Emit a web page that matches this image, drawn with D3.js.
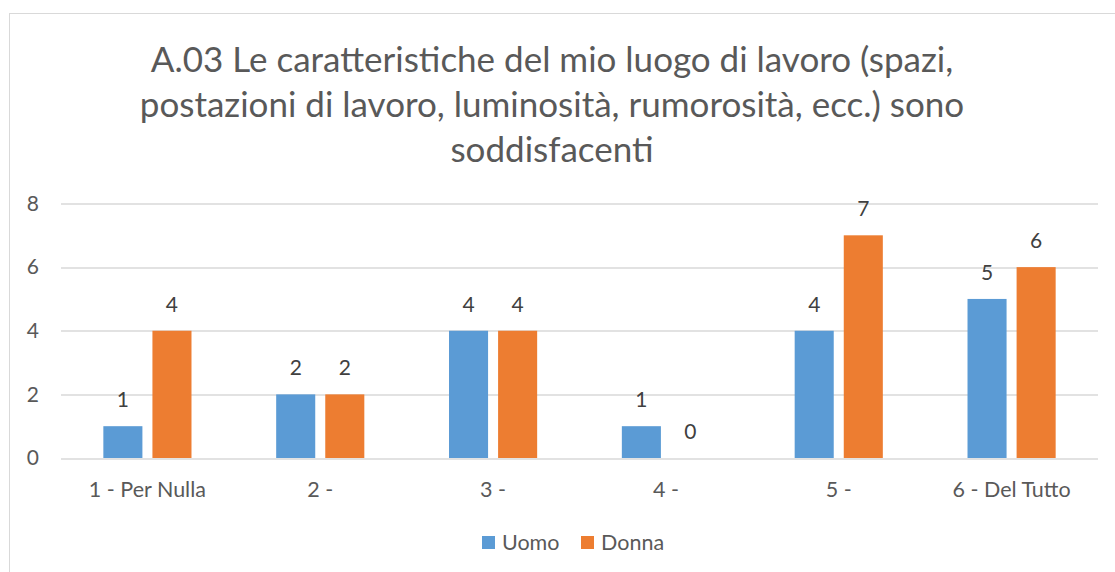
<!DOCTYPE html>
<html>
<head>
<meta charset="utf-8">
<script src="https://cdn.jsdelivr.net/npm/d3@7"></script>
<style>
  html, body { margin: 0; padding: 0; background: #fff; }
  svg { display: block; font-family: Lato, "Open Sans", sans-serif; }
</style>
</head>
<body>
<div id="chart"></div>
<script>
const categories = ['1 - Per Nulla', '2 -', '3 -', '4 -', '5 -', '6 - Del Tutto'];
const uomo = [1, 2, 4, 1, 4, 5];
const donna = [4, 2, 4, 0, 7, 6];
const seriesNames = ['Uomo', 'Donna'];
const yTicks = [0, 2, 4, 6, 8];
const titleLines = [
  'A.03 Le caratteristiche del mio luogo di lavoro (spazi,',
  'postazioni di lavoro, luminosità, rumorosità, ecc.) sono',
  'soddisfacenti'
];

const width = 1115;
const height = 572;
const textColor = '#595959';
const colors = ['#5B9BD5', '#ED7D31'];
const margin = { top: 203.5, right: 17, bottom: 114, left: 61 };

const svg = d3.select('#chart')
  .append('svg')
    .attr('width', width)
    .attr('height', height);

// chart frame
svg.append('rect')
  .attr('x', 9.5)
  .attr('y', 13.5)
  .attr('width', width + 10)
  .attr('height', height + 10)
  .attr('fill', '#fff')
  .attr('stroke', '#d9d9d9')
  .attr('stroke-width', 1);

svg.append('text')
  .attr('text-anchor', 'middle')
  .attr('fill', textColor)
  .attr('font-size', '35px')
  .selectAll('tspan')
  .data(titleLines)
  .join('tspan')
    .attr('x', 552)
    .attr('y', (d, i) => 72 + i * 45)
    .text(d => d);

const plotW = width - margin.left - margin.right;
const plotH = height - margin.top - margin.bottom;

const chart = svg.append('g')
  .attr('transform', `translate(${margin.left}, ${margin.top})`);

const x = d3.scaleBand()
  .domain(categories)
  .range([0, plotW]);

const y = d3.scaleLinear()
  .domain([0, 8])
  .range([plotH, 0]);

const barW = x.bandwidth() * 0.226;
const barGap = x.bandwidth() * 0.058;
const x1 = d3.scaleOrdinal()
  .domain(seriesNames)
  .range([-barGap / 2 - barW, barGap / 2]);

chart.append('g')
  .selectAll('line')
  .data(yTicks)
  .join('line')
    .attr('x1', 0)
    .attr('x2', plotW)
    .attr('y1', d => Math.round(y(d)) + 0.5)
    .attr('y2', d => Math.round(y(d)) + 0.5)
    .attr('stroke', '#d9d9d9')
    .attr('stroke-width', 1.5);

const yAxis = chart.append('g')
  .call(d3.axisLeft(y).tickValues(yTicks).tickSize(0).tickPadding(22));
yAxis.select('.domain').remove();
yAxis.selectAll('text')
  .attr('fill', textColor)
  .attr('font-size', '21px')
  .attr('font-family', 'Lato, sans-serif');

const xAxis = chart.append('g')
  .attr('transform', `translate(0, ${plotH})`)
  .call(d3.axisBottom(x).tickSize(0).tickPadding(24));
xAxis.select('.domain').remove();
xAxis.selectAll('text')
  .attr('fill', textColor)
  .attr('font-size', '21.5px')
  .attr('font-family', 'Lato, sans-serif');

const rows = categories.map((c, i) => ({ cat: c, values: [uomo[i], donna[i]] }));

const groups = chart.selectAll('.grp')
  .data(rows)
  .join('g')
    .attr('class', 'grp')
    .attr('transform', d => `translate(${x(d.cat) + x.bandwidth() / 2}, 0)`);

groups.selectAll('rect')
  .data(d => d.values.map((v, k) => ({ name: seriesNames[k], value: v, k })))
  .join('rect')
    .attr('x', d => x1(d.name))
    .attr('y', d => y(d.value))
    .attr('width', barW)
    .attr('height', d => plotH - y(d.value))
    .attr('fill', d => colors[d.k]);

groups.selectAll('text')
  .data(d => d.values.map((v, k) => ({ name: seriesNames[k], value: v, k })))
  .join('text')
    .attr('x', d => x1(d.name) + barW / 2)
    .attr('y', d => y(d.value) - 19)
    .attr('text-anchor', 'middle')
    .attr('fill', '#404040')
    .attr('font-size', '21px')
    .text(d => d.value);

// legend
const legend = svg.append('g')
  .attr('transform', 'translate(482, 536)');

const legendItems = legend.selectAll('g')
  .data(seriesNames)
  .join('g')
    .attr('transform', (d, i) => `translate(${i * 99}, 0)`);

legendItems.append('rect')
  .attr('width', 13)
  .attr('height', 13)
  .attr('fill', (d, i) => colors[i]);

legendItems.append('text')
  .attr('x', 20)
  .attr('y', 14)
  .attr('fill', textColor)
  .attr('font-size', '21.5px')
  .text(d => d);
</script>
</body>
</html>
